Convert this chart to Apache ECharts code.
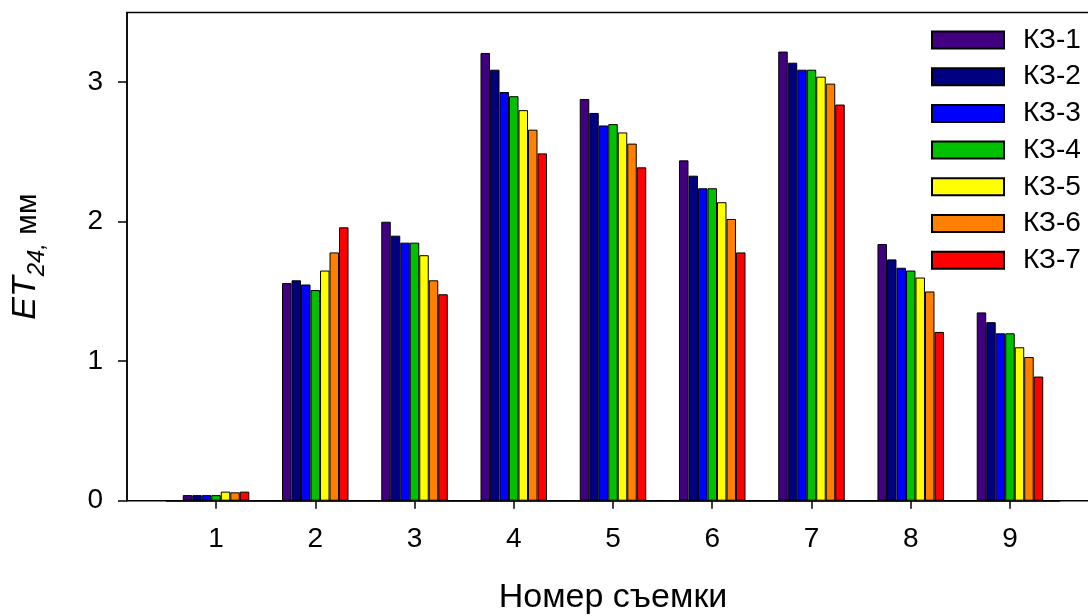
<!DOCTYPE html>
<html>
<head>
<meta charset="utf-8">
<script src="https://cdn.jsdelivr.net/npm/echarts@6/dist/echarts.min.js"></script>
<style>
  html, body { margin: 0; padding: 0; background: #fff; }
  #chart { width: 1088px; height: 616px; }
</style>
</head>
<body>
<div id="chart"></div>
<script>
// номера съемок
var categories = ["1", "2", "3", "4", "5", "6", "7", "8", "9"];
var seriesNames = ["КЗ-1", "КЗ-2", "КЗ-3", "КЗ-4", "КЗ-5", "КЗ-6", "КЗ-7"];
var colors = ["#400080", "#000080", "#0000ff", "#00c000", "#ffff00", "#ff8000", "#ff0000"];

// ET24, мм
var kz1 = [0.04, 1.56, 2.00, 3.21, 2.88, 2.44, 3.22, 1.84, 1.35];
var kz2 = [0.04, 1.58, 1.90, 3.09, 2.78, 2.33, 3.14, 1.73, 1.28];
var kz3 = [0.04, 1.55, 1.85, 2.93, 2.69, 2.24, 3.09, 1.67, 1.20];
var kz4 = [0.04, 1.51, 1.85, 2.90, 2.70, 2.24, 3.09, 1.65, 1.20];
var kz5 = [0.065, 1.65, 1.76, 2.80, 2.64, 2.14, 3.04, 1.60, 1.10];
var kz6 = [0.06, 1.78, 1.58, 2.66, 2.56, 2.02, 2.99, 1.50, 1.03];
var kz7 = [0.065, 1.96, 1.48, 2.49, 2.39, 1.78, 2.84, 1.21, 0.89];
var yTicks = [0, 1, 2, 3];

var allData = [kz1, kz2, kz3, kz4, kz5, kz6, kz7];
var font = "'Liberation Sans', Arial, sans-serif";

var chart = echarts.init(document.getElementById("chart"));

var series = seriesNames.map(function (name, i) {
  return {
    name: name,
    type: "bar",
    xAxisIndex: 1,
    yAxisIndex: 1,
    data: allData[i],
    barWidth: 9.5,
    barGap: "0%",
    itemStyle: {
      color: colors[i],
      borderColor: "#000",
      borderWidth: 1
    },
    emphasis: { disabled: true }
  };
});

chart.setOption({
  animation: false,
  textStyle: { fontFamily: font },
  legend: {
    orient: "vertical",
    left: 926,
    top: 21,
    icon: "rect",
    itemWidth: 72,
    itemHeight: 17,
    itemGap: 8.7,
    data: seriesNames,
    textStyle: {
      fontSize: 28,
      color: "#000",
      fontFamily: font,
      padding: [0, 0, 0, 14]
    }
  },
  grid: [
    {
      // рамка
      left: 127,
      top: 12.5,
      width: 1000,
      height: 488.2,
      outerBoundsMode: "none",
      show: true,
      borderColor: "#000",
      borderWidth: 1.5,
      backgroundColor: "transparent"
    },
    {
      left: 166.4,
      top: 12.5,
      width: 893.2,
      height: 488.2,
      outerBoundsMode: "none"
    }
  ],
  xAxis: [
    {
      gridIndex: 0,
      type: "value",
      min: 0,
      max: 1,
      axisLine: { show: false },
      axisTick: { show: false },
      axisLabel: { show: false },
      splitLine: { show: false }
    },
    {
      gridIndex: 1,
      type: "category",
      data: categories,
      name: "Номер съемки",
      nameLocation: "middle",
      nameGap: 80,
      nameTextStyle: { fontSize: 34, color: "#000", fontFamily: font },
      axisLine: { show: true, lineStyle: { color: "#000", width: 1.5 } },
      axisTick: { show: true, alignWithLabel: true, length: 8, lineStyle: { color: "#000", width: 1.5 } },
      axisLabel: { fontSize: 28, color: "#000", margin: 25 },
      splitLine: { show: false }
    }
  ],
  yAxis: [
    {
      gridIndex: 0,
      type: "value",
      min: 0,
      max: 3.5,
      interval: 1,
      name: "{i|ET}{s|24,}{n| мм}",
      nameLocation: "middle",
      nameGap: 84,
      nameRotate: 90,
      nameTextStyle: {
        color: "#000",
        rich: {
          i: { fontSize: 34, fontStyle: "italic", fontFamily: font, color: "#000", verticalAlign: "bottom", lineHeight: 36 },
          s: { fontSize: 24, fontStyle: "italic", fontFamily: font, color: "#000", verticalAlign: "bottom", lineHeight: 36, padding: [0, 0, -6, 0] },
          n: { fontSize: 30, fontFamily: font, color: "#000", verticalAlign: "bottom", lineHeight: 36 }
        }
      },
      axisLine: { show: true, lineStyle: { color: "#000", width: 1.5 } },
      axisTick: { show: true, length: 9, customValues: yTicks, lineStyle: { color: "#000", width: 1.5 } },
      axisLabel: { fontSize: 28, color: "#000", margin: 24, customValues: yTicks },
      splitLine: { show: false }
    },
    {
      gridIndex: 1,
      type: "value",
      min: 0,
      max: 3.5,
      show: false,
      splitLine: { show: false }
    }
  ],
  series: series
});
</script>
</body>
</html>
